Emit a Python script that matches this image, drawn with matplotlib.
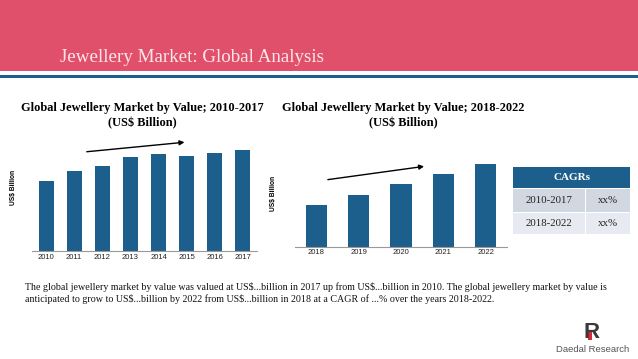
import matplotlib.pyplot as plt
from matplotlib.patches import Rectangle

years_hist = ['2010', '2011', '2012', '2013', '2014', '2015', '2016', '2017']
value_hist = [70, 80, 85, 94, 97, 95, 98, 101]
years_fcst = ['2018', '2019', '2020', '2021', '2022']
value_fcst = [42, 52, 63, 73, 83]

cagr_periods = ['2010-2017', '2018-2022']
cagr_values = ['xx%', 'xx%']

W, H = 638, 359
pink = '#e1506a'
blue = '#1d5f8c'
serif = 'Liberation Serif'
sans = 'Liberation Sans'

fig = plt.figure(figsize=(W / 100, H / 100), dpi=100)
fig.patch.set_facecolor('white')


def fx(px):
    return px / W


def fy(py):
    return 1 - py / H


# header band
fig.patches.append(Rectangle((0, fy(71)), 1, 71 / H, transform=fig.transFigure,
                             facecolor=pink, edgecolor='none'))
fig.patches.append(Rectangle((0, fy(78)), 1, 3.5 / H, transform=fig.transFigure,
                             facecolor=blue, edgecolor='none'))
fig.text(fx(60), fy(62), 'Jewellery Market: Global Analysis', color='#fde6ea',
         fontsize=13.7, family=serif, va='baseline', ha='left')


def bar_chart(left, right, base, top, cats, vals, width):
    ax = fig.add_axes([fx(left), fy(base), fx(right - left), (base - top) / H])
    ax.bar(range(len(cats)), vals, width=width, color=blue)
    ax.set_xlim(-0.5, len(cats) - 0.5)
    ax.set_ylim(0, base - top)
    ax.set_xticks(range(len(cats)))
    ax.set_xticklabels(cats, fontsize=5.5, family=sans, color='#222222')
    ax.tick_params(axis='x', length=0, pad=2)
    ax.set_yticks([])
    for s in ['top', 'right', 'left']:
        ax.spines[s].set_visible(False)
    ax.spines['bottom'].set_color('#999999')
    ax.spines['bottom'].set_linewidth(0.8)
    ax.patch.set_alpha(0)
    return ax


ax1 = bar_chart(32, 257, 251, 130, years_hist, value_hist, 0.53)
ax1.annotate('', xy=(5.02, 109), xytext=(1.35, 99),
             arrowprops=dict(arrowstyle='-|>', color='black', lw=1.0,
                             mutation_scale=7), annotation_clip=False)
ax2 = bar_chart(295, 507, 246.7, 130, years_fcst, value_fcst, 0.5)
ax2.annotate('', xy=(2.61, 80.7), xytext=(0.21, 66.7),
             arrowprops=dict(arrowstyle='-|>', color='black', lw=1.0,
                             mutation_scale=7), annotation_clip=False)

fig.text(fx(13), fy(187), 'US$ Billion', rotation=90, fontsize=4.8, family=sans,
         weight='bold', ha='center', va='center')
fig.text(fx(274), fy(193), 'US$ Billion', rotation=90, fontsize=4.8, family=sans,
         weight='bold', ha='center', va='center')

for cx, txt in [(142, 'Global Jewellery Market by Value; 2010-2017'),
                (403, 'Global Jewellery Market by Value; 2018-2022')]:
    fig.text(fx(cx), fy(108), txt, fontsize=8.9, family=serif, weight='bold',
             ha='center', va='center')
    fig.text(fx(cx), fy(123.5), '(US$ Billion)', fontsize=8.9, family=serif,
             weight='bold', ha='center', va='center')

# CAGR table
tx0, tx1, tmid = 513, 630, 585
fig.patches.append(Rectangle((fx(tx0), fy(188)), fx(tx1 - tx0), 21 / H,
                             transform=fig.transFigure, facecolor=blue, edgecolor='none'))
fig.text(fx((tx0 + tx1) / 2), fy(177.5), 'CAGRs', color='white', fontsize=8,
         family=serif, weight='bold', ha='center', va='center')
row_cols = ['#d2d8e2', '#e7eaf0']
row_edges = [(188.8, 211.5), (212.5, 234)]
for i, (y0, y1) in enumerate(row_edges):
    for (a, b) in [(tx0, tmid - 0.5), (tmid + 0.5, tx1)]:
        fig.patches.append(Rectangle((fx(a), fy(y1)), fx(b - a), (y1 - y0) / H,
                                     transform=fig.transFigure,
                                     facecolor=row_cols[i], edgecolor='none'))
    yc = (y0 + y1) / 2
    fig.text(fx((tx0 + tmid) / 2), fy(yc), cagr_periods[i], fontsize=7.8,
             family=serif, ha='center', va='center', color='#222222')
    fig.text(fx((tmid + tx1) / 2), fy(yc), cagr_values[i], fontsize=7.8,
             family=serif, ha='center', va='center', color='#222222')

# paragraph
para = ('The global jewellery market by value was valued at US\\$...billion in 2017 up from '
        'US\\$...billion in 2010. The global jewellery market by value is\n'
        'anticipated to grow to US\\$...billion by 2022 from US\\$...billion in 2018 at a CAGR of '
        '...% over the years 2018-2022.')
fig.text(fx(25), fy(293), para, fontsize=7.2, family=serif, ha='left', va='center',
         linespacing=1.15, color='#111111')

# logo
fig.text(fx(592), fy(333), 'R', fontsize=16, family=sans, weight='bold',
         color='#3a3a3a', ha='center', va='center')
fig.patches.append(Rectangle((fx(588), fy(340)), fx(4), 9 / H,
                             transform=fig.transFigure, facecolor='#d8283a', edgecolor='none'))
fig.text(fx(593), fy(350), 'Daedal Research', fontsize=6.8, family=sans,
         color='#555555', ha='center', va='center')

fig.savefig('out.png', dpi=100)
